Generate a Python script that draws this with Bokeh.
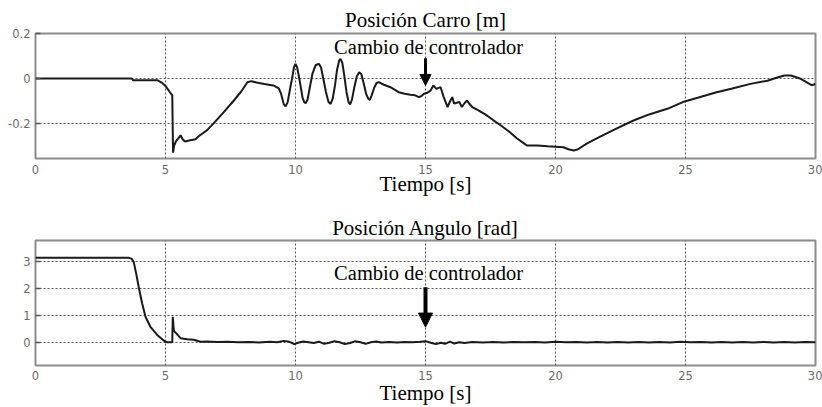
from bokeh.plotting import figure
from bokeh.models import FixedTicker, Range1d, Arrow, NormalHead, Label
from bokeh.layouts import column
from bokeh.embed import file_html
from bokeh.resources import INLINE

# ---------------- data ----------------
x_ticks = [0, 5, 10, 15, 20, 25, 30]
x_tick_labels = ["0", "5", "10", "15", "20", "25", "30"]

carro_yticks = [-0.2, 0, 0.2]
carro_ytick_labels = ["-0.2", "0", "0.2"]
angulo_yticks = [0, 1, 2, 3]
angulo_ytick_labels = ["0", "1", "2", "3"]

carro_t = [0, 3.7, 3.75, 4.7, 4.85, 5.0, 5.15, 5.26, 5.29, 5.33, 5.4, 5.5, 5.58, 5.66, 5.75,
           5.95, 6.15, 6.3, 6.6, 6.85, 7.2, 7.63, 7.9, 8.15, 8.3, 8.5, 8.8, 9.15, 9.36,
           9.45, 9.55, 9.62, 9.7, 9.8, 9.87, 9.94, 10.0, 10.06, 10.13, 10.19, 10.27, 10.34, 10.39,
           10.46, 10.55, 10.65, 10.78, 10.9, 10.98, 11.07, 11.17, 11.27, 11.35, 11.43, 11.52, 11.6,
           11.68, 11.73, 11.8, 11.88, 11.96, 12.04, 12.1, 12.17, 12.26, 12.36, 12.45, 12.53, 12.62,
           12.72, 12.8, 12.86, 12.93, 13.03, 13.12, 13.2, 13.4, 13.65, 13.97, 14.2, 14.42, 14.6,
           14.75, 14.85, 14.94, 15.05, 15.2, 15.3, 15.42, 15.5, 15.58, 15.7, 15.85, 15.95, 16.03,
           16.1, 16.2, 16.3, 16.4, 16.5, 16.6, 16.7, 16.8, 17.0, 17.3, 17.6, 17.9, 18.2, 18.5,
           18.8, 18.9, 19.3, 19.7, 20.0, 20.3, 20.5, 20.7, 20.85, 21.2, 21.7, 22.3, 23.0, 23.6,
           24.3, 24.9, 25.5, 26.2, 26.8, 27.5, 28.15, 28.5, 28.8, 29.05, 29.4, 29.7, 29.85, 30.0]
carro_v = [0.0, 0.0, -0.008, -0.008, -0.018, -0.033, -0.058, -0.075, -0.33, -0.30, -0.28, -0.265,
           -0.253, -0.27, -0.28, -0.275, -0.27, -0.255, -0.23, -0.2, -0.155, -0.098, -0.06, -0.017,
           -0.012, -0.018, -0.025, -0.031, -0.044,
           -0.07, -0.115, -0.124, -0.105, -0.04, 0.0, 0.05, 0.065, 0.05, 0.01, -0.03, -0.085, -0.106,
           -0.11, -0.095, -0.04, 0.02, 0.06, 0.065, 0.05, 0.0, -0.06, -0.105, -0.113, -0.09, -0.03,
           0.04, 0.08, 0.087, 0.07, 0.01, -0.06, -0.105, -0.115, -0.095, -0.04, 0.01, 0.027, 0.02,
           -0.02, -0.07, -0.09, -0.095, -0.075, -0.04, -0.02, -0.016, -0.028, -0.039, -0.061, -0.068,
           -0.072, -0.075, -0.083, -0.078, -0.068, -0.065, -0.053, -0.031, -0.046, -0.042, -0.039,
           -0.083, -0.127, -0.1, -0.083, -0.112, -0.108, -0.105, -0.127, -0.11, -0.098, -0.115,
           -0.127, -0.14, -0.16, -0.185, -0.209, -0.235, -0.265, -0.29, -0.298, -0.298, -0.302,
           -0.304, -0.306, -0.315, -0.32, -0.316, -0.29, -0.26, -0.225, -0.187, -0.16, -0.135,
           -0.105, -0.085, -0.061, -0.045, -0.024, -0.01, 0.003, 0.013, 0.013, 0.0, -0.02, -0.03,
           -0.025]

angulo_t = [0, 3.6, 3.7, 3.78, 3.88, 3.97, 4.1, 4.23, 4.42, 4.68, 4.93, 5.06, 5.26, 5.28, 5.32,
            5.35, 5.58, 5.83, 6.08, 6.35, 6.6, 7.0, 7.4, 7.8, 8.2, 8.6, 9.0, 9.3, 9.55, 9.75, 9.95,
            10.1, 10.3, 10.5, 10.7, 10.9, 11.1, 11.3, 11.5, 11.7, 11.9, 12.1, 12.3, 12.5, 12.7,
            12.9, 13.1, 13.3, 13.6, 13.9, 14.2, 14.5, 14.8, 15.0, 15.2, 15.4, 15.6, 15.75, 15.95,
            16.1, 16.3, 16.5, 16.8, 17.2, 17.6, 18.0, 18.4, 18.8, 19.2, 19.6, 20.0, 20.4, 20.8,
            21.2, 21.6, 22.0, 22.4, 22.8, 23.2, 23.6, 24.0, 24.4, 24.8, 25.2, 25.6, 26.0, 26.4,
            26.8, 27.2, 27.6, 28.0, 28.4, 28.8, 29.2, 29.6, 30.0]
angulo_v = [3.12, 3.12, 3.08, 2.96, 2.5, 2.04, 1.44, 0.94, 0.57, 0.27, 0.06, 0.0, 0.0, 0.94, 0.45,
            0.39, 0.15, 0.11, 0.09, 0.02, 0.03, 0.01, 0.02, 0.0, 0.01, -0.01, 0.02, 0.0, 0.05, 0.02,
            -0.07, -0.02, 0.03, 0.0, -0.03, 0.02, -0.06, -0.02, 0.04, 0.0, -0.07, -0.03, 0.04, 0.0,
            -0.06, 0.0, 0.03, -0.01, 0.01, -0.01, 0.01, 0.0, 0.02, 0.04, -0.02, -0.07, -0.02, -0.06,
            0.02, -0.05, 0.0, -0.03, 0.01, -0.01, 0.01, -0.01, 0.01, 0.0, 0.01, -0.01, 0.02, 0.0,
            0.01, -0.01, 0.01, -0.01, 0.01, -0.01, 0.01, -0.01, 0.01, -0.01, 0.02, 0.0, 0.01, -0.01,
            0.01, -0.01, 0.01, -0.01, 0.01, -0.01, 0.01, -0.01, 0.01, 0.0]

switch_time = 15
annotation_text = "Cambio de controlador"

SERIF = "Liberation Serif"
SANS = "DejaVu Sans"


def make_fig(title, height, top, bottom, yr, yticks, ylabels, t, v,
             arrow_y, head, shaft, label_y, title_standoff, xlabel_standoff, tick_standoff):
    p = figure(width=822, height=height, output_backend="svg", toolbar_location=None,
               x_range=Range1d(0, 30), y_range=Range1d(*yr),
               min_border_left=35, min_border_right=7,
               min_border_top=top, min_border_bottom=bottom,
               background_fill_color="white", border_fill_color="white")
    p.title.text = title
    p.title.align = "center"
    p.title.text_font = SERIF
    p.title.text_font_size = "21px"
    p.title.text_font_style = "normal"
    p.title.text_color = "black"
    p.title.standoff = title_standoff

    p.outline_line_color = "#8c8c8c"
    p.outline_line_width = 2

    p.xaxis.ticker = FixedTicker(ticks=x_ticks)
    p.xaxis.major_label_overrides = dict(zip(x_ticks, x_tick_labels))
    p.yaxis.ticker = FixedTicker(ticks=yticks)
    p.yaxis.major_label_overrides = dict(zip(yticks, ylabels))
    for ax in (p.xaxis, p.yaxis):
        ax.axis_line_color = None
        ax.minor_tick_line_color = None
        ax.major_tick_out = 0
        ax.major_label_text_font = SANS
        ax.major_label_text_font_size = "11.5px"
        ax.major_label_text_color = "#6a6a6a"
    p.xaxis.major_tick_line_color = None
    p.xaxis.major_tick_in = 0
    p.yaxis.major_tick_line_color = "#555555"
    p.yaxis.major_tick_line_width = 1.5
    p.yaxis.major_tick_in = 5
    p.xaxis.major_label_standoff = tick_standoff
    p.yaxis.major_label_standoff = 5
    p.xaxis.axis_label = "Tiempo [s]"
    p.xaxis.axis_label_text_font = SERIF
    p.xaxis.axis_label_text_font_size = "21px"
    p.xaxis.axis_label_text_font_style = "normal"
    p.xaxis.axis_label_text_color = "black"
    p.xaxis.axis_label_standoff = xlabel_standoff

    for g in (p.xgrid, p.ygrid):
        g.grid_line_color = "#5a5a5a"
        g.grid_line_dash = "2 2"
        g.grid_line_width = 1

    p.line(t, v, line_color="#1a1a1a", line_width=2)

    p.add_layout(Arrow(end=NormalHead(size=head, fill_color="black", line_color="black"),
                       x_start=switch_time, y_start=arrow_y[0],
                       x_end=switch_time, y_end=arrow_y[1],
                       line_color="black", line_width=shaft))
    p.add_layout(Label(x=switch_time + 0.12, y=label_y, text=annotation_text,
                       text_align="center", text_baseline="middle",
                       text_font=SERIF, text_font_size="20.5px", text_color="black"))
    return p


p1 = make_fig("Posición Carro [m]", 200, 33, 42, (-0.356, 0.2),
              carro_yticks, carro_ytick_labels, carro_t, carro_v,
              (0.09, -0.031), 11, 3, 0.142, 4, -5, 6)
p2 = make_fig("Posición Angulo [rad]", 207, 40, 41, (-0.86, 3.76),
              angulo_yticks, angulo_ytick_labels, angulo_t, angulo_v,
              (2.03, 0.56), 14, 4, 2.55, 2, -2, 5)

layout = column(p1, p2, spacing=0)
open("out.html", "w").write(file_html(layout, INLINE))
